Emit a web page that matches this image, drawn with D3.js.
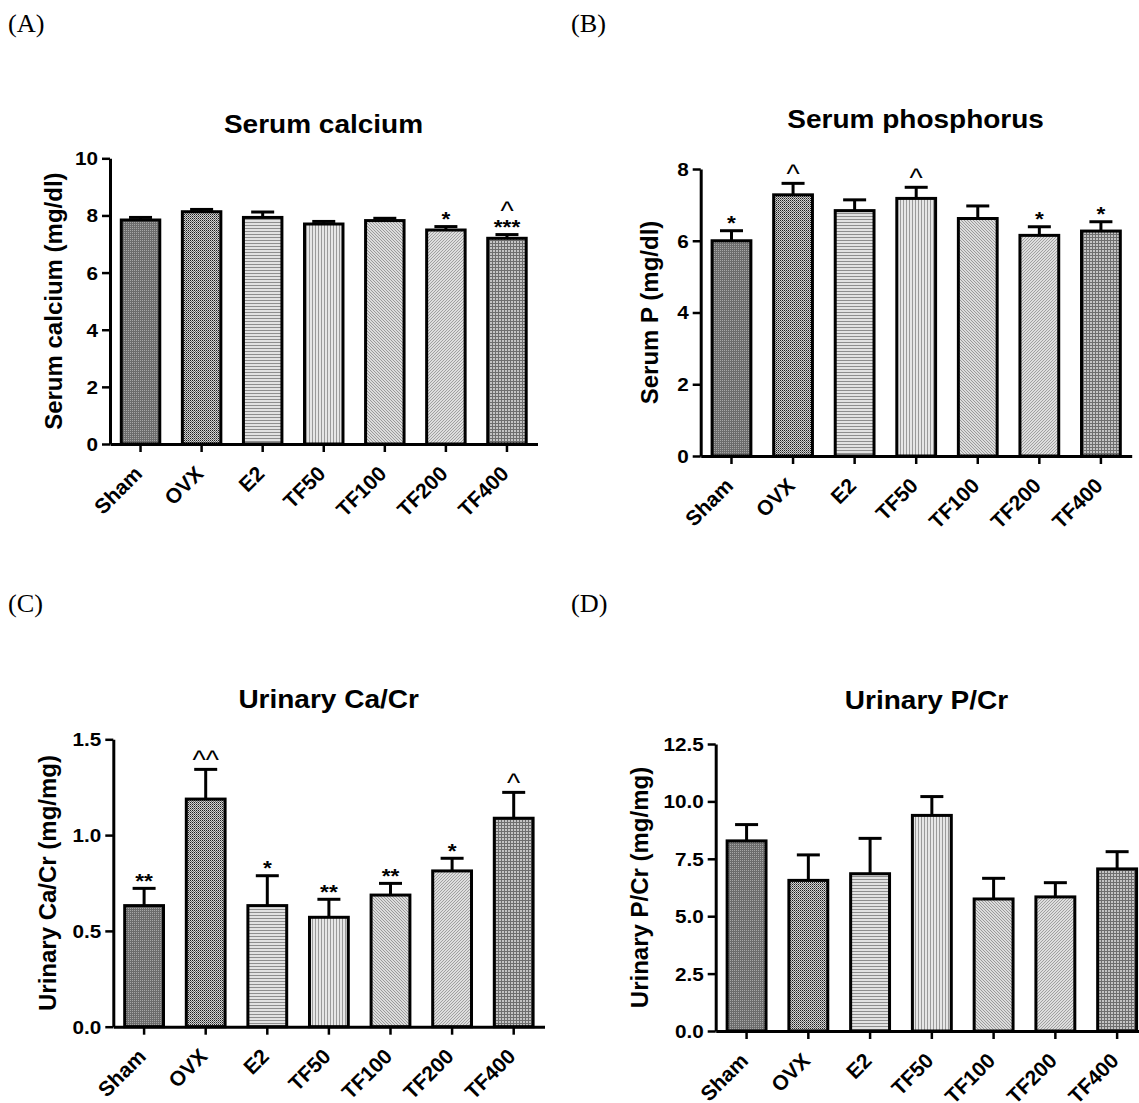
<!DOCTYPE html>
<html>
<head>
<meta charset="utf-8">
<script src="https://cdn.jsdelivr.net/npm/d3@7"></script>
<style>
  body { margin: 0; background: #fff; }
  svg { display: block; }
</style>
</head>
<body>
<script>
// Treatment groups shared by all four panels
const categories = ["Sham", "OVX", "E2", "TF50", "TF100", "TF200", "TF400"];

// (A) Serum calcium, mg/dl: mean and SEM
const calciumMean = [7.84, 8.13, 7.93, 7.70, 7.82, 7.49, 7.20];
const calciumErr  = [0.09, 0.08, 0.19, 0.09, 0.08, 0.12, 0.13];
const calciumSig  = [[], [], [], [], [], ["*"], ["^", "***"]];
const calciumTicks = [0, 2, 4, 6, 8, 10];

// (B) Serum phosphorus, mg/dl
const phosphorusMean = [6.00, 7.28, 6.84, 7.18, 6.62, 6.15, 6.27];
const phosphorusErr  = [0.28, 0.32, 0.30, 0.31, 0.35, 0.24, 0.26];
const phosphorusSig  = [["*"], ["^"], [], ["^"], [], ["*"], ["*"]];
const phosphorusTicks = [0, 2, 4, 6, 8];

// (C) Urinary Ca/Cr, mg/mg
const caCrMean = [0.632, 1.188, 0.632, 0.571, 0.687, 0.813, 1.088];
const caCrErr  = [0.090, 0.155, 0.156, 0.094, 0.061, 0.066, 0.135];
const caCrSig  = [["**"], ["^^"], ["*"], ["**"], ["**"], ["*"], ["^"]];
const caCrTicks = [0, 0.5, 1.0, 1.5];

// (D) Urinary P/Cr, mg/mg
const pCrMean = [8.28, 6.56, 6.85, 9.39, 5.75, 5.84, 7.06];
const pCrErr  = [0.71, 1.11, 1.54, 0.82, 0.90, 0.62, 0.75];
const pCrSig  = [[], [], [], [], [], [], []];
const pCrTicks = [0, 2.5, 5, 7.5, 10, 12.5];

const W = 1139, H = 1103;
const FONT = "'Liberation Sans', Arial, Helvetica, sans-serif";
const SERIF = "'Liberation Serif', 'Times New Roman', serif";
const WIDE = 1.12;   // horizontal stretch of the upright lettering

const svg = d3.select("body").append("svg")
  .attr("width", W).attr("height", H)
  .style("background", "#fff");

// ---- fill textures, one per group ----
const defs = svg.append("defs");
function pixelPattern(id, size, bg, pixels) {
  const p = defs.append("pattern").attr("id", id)
    .attr("patternUnits", "userSpaceOnUse")
    .attr("x", 0).attr("y", 0).attr("width", size[0]).attr("height", size[1]);
  p.append("rect").attr("width", size[0]).attr("height", size[1]).attr("fill", bg);
  pixels.forEach(([x, y, w, h, c]) =>
    p.append("rect").attr("x", x).attr("y", y).attr("width", w).attr("height", h).attr("fill", c));
}
// Sham: dark fine stipple
pixelPattern("pat0", [2, 2], "#6c6c6c", [[0, 0, 1, 1, "#a6a6a6"]]);
// OVX: black/white checker
pixelPattern("pat1", [2, 2], "#d2d2d2", [[0, 0, 1, 1, "#1e1e1e"], [1, 1, 1, 1, "#6a6a6a"]]);
// E2: horizontal lines
pixelPattern("pat2", [3, 3], "#e2e2e2", [[0, 0, 3, 1, "#8e8e8e"]]);
// TF50: vertical lines
pixelPattern("pat3", [3, 3], "#e6e6e6", [[0, 0, 1, 3, "#9a9a9a"]]);
// TF100: diagonal hatch
pixelPattern("pat4", [3, 3], "#dcdcdc", [[0, 0, 1, 1, "#9a9a9a"], [1, 1, 1, 1, "#9a9a9a"], [2, 2, 1, 1, "#9a9a9a"]]);
// TF200: opposite diagonal hatch
pixelPattern("pat5", [3, 3], "#dedede", [[2, 0, 1, 1, "#a0a0a0"], [1, 1, 1, 1, "#a0a0a0"], [0, 2, 1, 1, "#a0a0a0"]]);
// TF400: fine grid
pixelPattern("pat6", [3, 3], "#c4c4c4", [[0, 0, 3, 1, "#6e6e6e"], [0, 0, 1, 3, "#6e6e6e"]]);

// ---- panel layout ----
const panels = [
  { tag: "(A)", tagX: 8, tagY: 32,
    title: "Serum calcium", titleX: 323.5, titleY: 133, yTitle: "Serum calcium (mg/dl)", yTitleGap: 48,
    mean: calciumMean, err: calciumErr, sig: calciumSig, ticks: calciumTicks, max: 10, fmt: d3.format("d"),
    left: 110, right: 537.5, top: 158.3, bottom: 444 },
  { tag: "(B)", tagX: 571, tagY: 32,
    title: "Serum phosphorus", titleX: 915.6, titleY: 128, yTitle: "Serum P (mg/dl)", yTitleGap: 43,
    mean: phosphorusMean, err: phosphorusErr, sig: phosphorusSig, ticks: phosphorusTicks, max: 8, fmt: d3.format("d"),
    left: 700.7, right: 1131.7, top: 169, bottom: 456 },
  { tag: "(C)", tagX: 8, tagY: 612,
    title: "Urinary Ca/Cr", titleX: 328.6, titleY: 708, yTitle: "Urinary Ca/Cr (mg/mg)", yTitleGap: 57,
    mean: caCrMean, err: caCrErr, sig: caCrSig, ticks: caCrTicks, max: 1.5, fmt: d3.format(".1f"),
    left: 113.3, right: 544.5, top: 739.3, bottom: 1026.7 },
  { tag: "(D)", tagX: 571, tagY: 612,
    title: "Urinary P/Cr", titleX: 926.5, titleY: 709, yTitle: "Urinary P/Cr (mg/mg)", yTitleGap: 68,
    mean: pCrMean, err: pCrErr, sig: pCrSig, ticks: pCrTicks, max: 12.5, fmt: d3.format(".1f"),
    left: 715.7, right: 1148, top: 744, bottom: 1031 }
];

panels.forEach(drawPanel);

function drawPanel(p) {
  const g = svg.append("g");

  // panel tag
  svg.append("text")
    .attr("transform", `translate(${p.tagX},${p.tagY}) scale(1.05,1)`)
    .style("font-family", SERIF)
    .style("font-size", "25px")
    .text(p.tag);

  const x = d3.scaleBand().domain(categories)
    .range([p.left, p.right]).paddingInner(0.37).paddingOuter(0.185);
  const y = d3.scaleLinear().domain([0, p.max]).range([p.bottom, p.top]);

  const data = categories.map((c, i) => ({ c, i, v: p.mean[i], e: p.err[i], s: p.sig[i] }));

  // title
  g.append("text")
    .attr("transform", `translate(${p.titleX},${p.titleY}) scale(${WIDE},1)`)
    .attr("text-anchor", "middle")
    .style("font-family", FONT).style("font-weight", "bold").style("font-size", "25px")
    .text(p.title);

  // bars
  g.selectAll("rect.bar").data(data).join("rect")
    .attr("class", "bar")
    .attr("x", d => x(d.c))
    .attr("y", d => y(d.v))
    .attr("width", x.bandwidth())
    .attr("height", d => y(0) - y(d.v))
    .attr("fill", d => `url(#pat${d.i})`)
    .attr("stroke", "#000").attr("stroke-width", 3);

  // error bars (upper half only)
  const cx = d => x(d.c) + x.bandwidth() / 2;
  const eb = g.selectAll("g.err").data(data).join("g").attr("class", "err")
    .attr("stroke", "#000").attr("stroke-width", 3);
  eb.append("line")
    .attr("x1", cx).attr("x2", cx)
    .attr("y1", d => y(d.v)).attr("y2", d => y(d.v + d.e));
  eb.append("line")
    .attr("x1", d => cx(d) - 11.5).attr("x2", d => cx(d) + 11.5)
    .attr("y1", d => y(d.v + d.e)).attr("y2", d => y(d.v + d.e));

  // significance marks, stacked upward from the error cap
  data.filter(d => d.s.length).forEach(d => {
    const n = d.s.length;
    const t = g.append("text")
      .attr("transform", `translate(${cx(d)},${y(d.v + d.e) - 0.5}) scale(1.08,1)`)
      .attr("text-anchor", "middle")
      .style("font-family", FONT);
    d.s.forEach((txt, k) => {
      const isCaret = txt.indexOf("^") >= 0;
      t.append("tspan")
        .attr("x", 0)
        .attr("y", -(n - 1 - k) * 14)
        .style("font-weight", isCaret ? "normal" : "bold")
        .style("font-size", isCaret ? "26px" : "21px")
        .text(txt);
    });
  });

  // y axis
  const ya = g.append("g").attr("transform", `translate(${p.left},0)`)
    .call(d3.axisLeft(y).tickValues(p.ticks).tickFormat(p.fmt).tickSize(8).tickSizeOuter(0));
  // x axis
  const xa = g.append("g").attr("transform", `translate(0,${p.bottom})`)
    .call(d3.axisBottom(x).tickSize(8).tickSizeOuter(0));

  [ya, xa].forEach(a => {
    a.select(".domain").attr("stroke", "#000").attr("stroke-width", 3);
    a.selectAll(".tick line").attr("stroke", "#000").attr("stroke-width", 2.5);
    a.selectAll("text")
      .style("font-family", FONT).style("font-weight", "bold")
      .attr("fill", "#000");
  });
  ya.selectAll(".tick text")
    .style("font-size", "18px")
    .attr("x", 0).attr("dy", "0.36em")
    .attr("text-anchor", "end")
    .attr("transform", `translate(-12,0) scale(1.15,1)`);
  xa.selectAll(".tick text")
    .style("font-size", "21px")
    .attr("x", 0).attr("y", 0).attr("dy", 0)
    .attr("text-anchor", "end")
    .attr("transform", "translate(3,31) rotate(-45)");

  // y-axis title
  g.append("text")
    .attr("transform", `translate(${p.left - p.yTitleGap},${(p.top + p.bottom) / 2}) rotate(-90)`)
    .attr("text-anchor", "middle")
    .style("font-family", FONT).style("font-weight", "bold").style("font-size", "24px")
    .text(p.yTitle);
}
</script>
</body>
</html>
